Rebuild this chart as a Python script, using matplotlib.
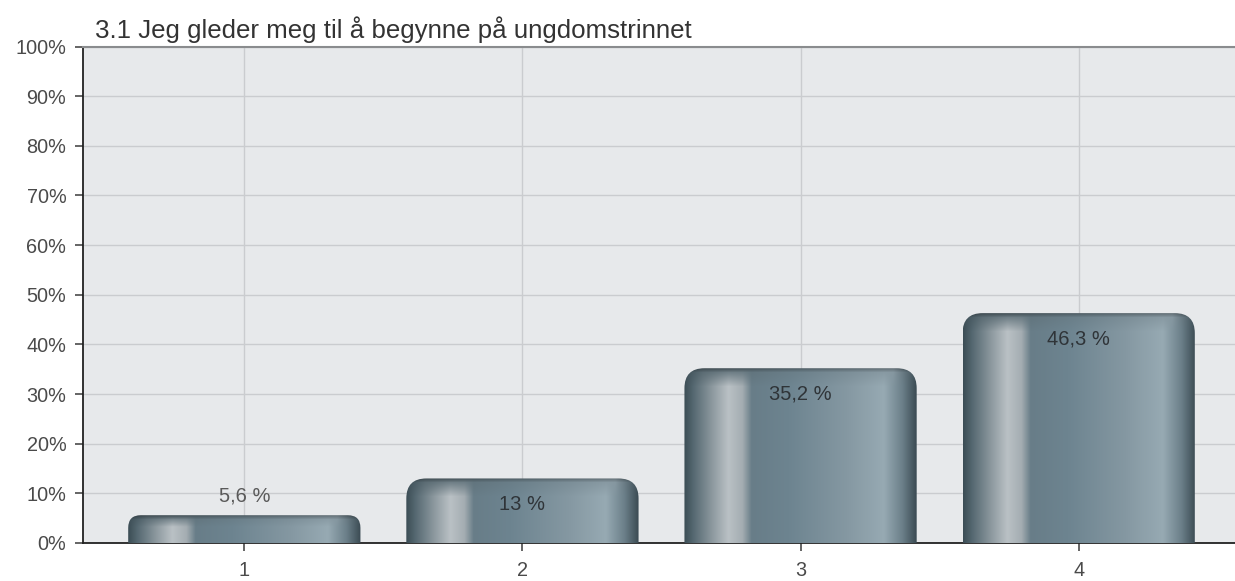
import numpy as np
import matplotlib.pyplot as plt
from matplotlib.patches import FancyBboxPatch
from matplotlib.colors import to_rgb

# data
kategorier = ['1', '2', '3', '4']
verdier = [5.6, 13.0, 35.2, 46.3]
etiketter = ['5,6 %', '13 %', '35,2 %', '46,3 %']
tittel = '3.1 Jeg gleder meg til å begynne på ungdomstrinnet'
yticks = list(range(0, 101, 10))

plt.rcParams['font.family'] = ['Liberation Sans', 'DejaVu Sans']

fig = plt.figure(figsize=(12.35, 5.81), dpi=100)
ax = fig.add_axes([83 / 1235, 1 - 543 / 581, 1157 / 1235, 496.5 / 581])
ax.set_facecolor('#e7e9eb')

x = np.arange(1, len(verdier) + 1)
ax.set_xlim(0.42, 4.58)
ax.set_ylim(0, 100)

# fargeovergang over søylen (andel, farge)
stopp = [(0.00, '#3c4d55'), (0.04, '#566972'), (0.12, '#8d999f'),
         (0.19, '#bac1c5'), (0.25, '#a4adb2'), (0.29, '#687d88'),
         (0.45, '#6d8490'), (0.70, '#8598a2'), (0.86, '#97aab3'),
         (0.94, '#6b7f89'), (1.00, '#3b4b53')]
kx = np.linspace(0, 1, 240)
cols = np.array([to_rgb(c) for _, c in stopp])
fr = np.array([f for f, _ in stopp])
rad = np.stack([np.interp(kx, fr, cols[:, i]) for i in range(3)], axis=1)
kapp_c = [to_rgb(c) for c in ['#3e4f57', '#56676f', '#6b7f89', '#8798a1', '#3e4f57']]
kapp = np.stack([np.interp(kx, [0, 0.08, 0.5, 0.9, 1], [c[i] for c in kapp_c])
                 for i in range(3)], axis=1)

bars = ax.bar(x, verdier, width=0.835, color='none', edgecolor='none', zorder=3)

fig.canvas.draw()
px_per_y = ax.transData.transform((0, 1))[1] - ax.transData.transform((0, 0))[1]
px_per_x = ax.transData.transform((1, 0))[0] - ax.transData.transform((0, 0))[0]

for b, v in zip(bars, verdier):
    x0, w, h = b.get_x(), b.get_width(), b.get_height()
    h_px = int(round(h * px_per_y))
    r_px = min(20, h_px * 0.45)
    rows = np.arange(h_px)[:, None, None]  # 0 = toppen
    cap_h = max(r_px * 0.9, 4)
    t = np.clip(1 - rows / cap_h, 0, 1)
    img = rad[None, :, :] * (1 - t) + kapp[None, :, :] * t
    edge = np.clip(1 - rows / 4.0, 0, 1) * 0.25
    img = img * (1 - edge)
    rx = r_px / px_per_x
    ry = r_px / px_per_y
    patch = FancyBboxPatch((x0, -ry * 2), w, h + ry * 2,
                           boxstyle=f'round,pad=0,rounding_size={rx}',
                           mutation_aspect=ry / rx,
                           facecolor='none', edgecolor='none', zorder=3)
    ax.add_patch(patch)
    im = ax.imshow(img, extent=(x0, x0 + w, 0, h), aspect='auto',
                   interpolation='bilinear', zorder=3)
    im.set_clip_path(patch)

for xi, v, lab in zip(x, verdier, etiketter):
    if v < 8:
        ax.text(xi, v + 3.8, lab, ha='center', va='center', fontsize=14.5,
                color='#5a5a5a', zorder=5)
    else:
        ax.text(xi, v - 5.2, lab, ha='center', va='center', fontsize=14.5,
                color='#2f3438', zorder=5)

ax.set_xticks(x)
ax.set_xticklabels(kategorier)
ax.set_yticks(yticks)
ax.set_yticklabels([f'{t}%' for t in yticks])
ax.tick_params(axis='both', labelsize=14.3, colors='#4a4a4a', length=6, width=1.2)
ax.tick_params(axis='x', pad=7)
ax.tick_params(axis='y', pad=6)
for l in ax.get_xticklines() + ax.get_yticklines():
    l.set_color('#222222')

ax.grid(True, color='#cacccf', linewidth=1, zorder=0)
ax.set_axisbelow(True)
ax.spines['left'].set_color('#222222')
ax.spines['bottom'].set_color('#222222')
ax.spines['left'].set_linewidth(1.3)
ax.spines['bottom'].set_linewidth(1.3)
ax.spines['top'].set_color('#8a8c8e')
ax.spines['top'].set_linewidth(1.5)
ax.spines['right'].set_visible(False)

fig.text(95 / 1235, 1 - 30 / 581, tittel, fontsize=18.6, color='#333333',
         ha='left', va='center')

fig.savefig('out.png', dpi=100)
